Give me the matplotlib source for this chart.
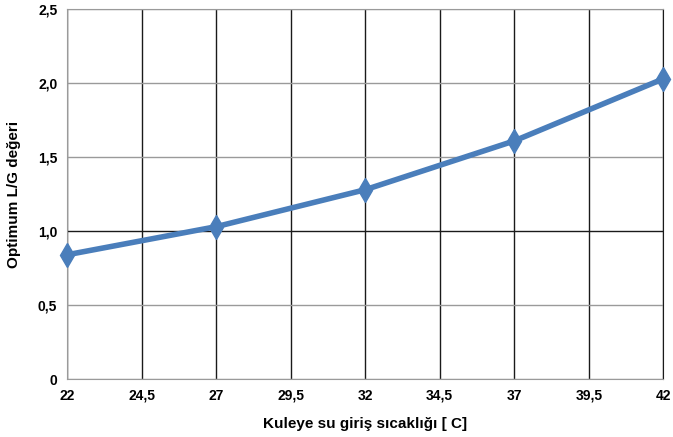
import matplotlib.pyplot as plt

plt.rcParams['font.family'] = ['Liberation Sans', 'DejaVu Sans']

# data
temps = [22, 27, 32, 37, 42]
lg_opt = [0.84, 1.03, 1.28, 1.61, 2.03]
x_ticks = [22, 24.5, 27, 29.5, 32, 34.5, 37, 39.5, 42]
y_ticks = [0, 0.5, 1.0, 1.5, 2.0, 2.5]
y_labels = ['0', '0,5', '1,0', '1,5', '2,0', '2,5']


def comma(v):
    return ('%g' % v).replace('.', ',')


fig = plt.figure(figsize=(6.73, 4.37), dpi=100)
ax = fig.add_axes([0.0996, 0.1327, 0.886, 0.846])

# grid: vertical lines black, horizontal gray (1,0 line black)
for x in x_ticks:
    ax.axvline(x, color='#1a1a1a', lw=1.0, zorder=1)
for y in y_ticks:
    c = '#1a1a1a' if y == 1.0 else '#9a9a9a'
    ax.axhline(y, color=c, lw=1.0, zorder=1)

ax.plot(temps, lg_opt, color='#4a7ebb', lw=4, marker='d', ms=12,
        markerfacecolor='#4a7ebb', markeredgecolor='#4a7ebb', zorder=3,
        clip_on=False)

ax.set_xlim(22, 42)
ax.set_ylim(0, 2.5)
ax.set_xticks(x_ticks)
ax.set_xticklabels([comma(v) for v in x_ticks], fontsize=10, fontweight='bold')
ax.set_yticks(y_ticks)
ax.set_yticklabels(y_labels, fontsize=10, fontweight='bold')
ax.tick_params(length=0, pad=7)

for side in ['left', 'bottom', 'top']:
    ax.spines[side].set_color('#9a9a9a')
ax.spines['right'].set_color('#1a1a1a')

ax.set_xlabel('Kuleye su giriş sıcaklığı [ C]', fontsize=11, fontweight='bold', labelpad=10)
ax.set_ylabel('Optimum L/G değeri', fontsize=11, fontweight='bold', labelpad=12)

fig.savefig('out.png', dpi=100)
